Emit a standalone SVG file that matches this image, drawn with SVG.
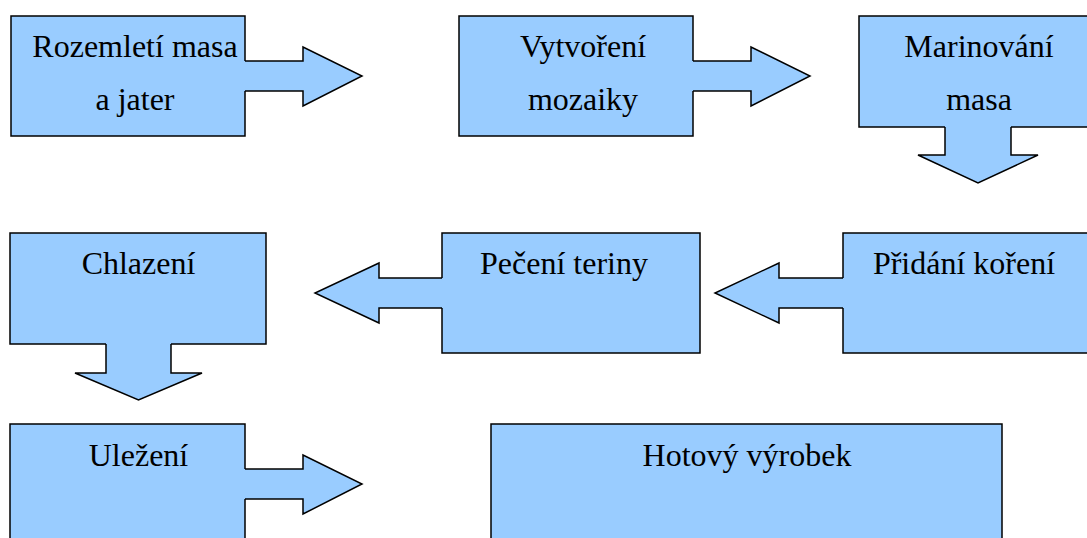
<svg xmlns="http://www.w3.org/2000/svg" width="1087" height="538" viewBox="0 0 1087 538">
<style>
.box{fill:#99ccff;stroke:#000;stroke-width:1.5}
.af{fill:#99ccff;stroke:none}
.as{fill:none;stroke:#000;stroke-width:1.5;stroke-linejoin:miter}
text{font-family:"Liberation Serif","Times New Roman",serif;font-size:32px;fill:#000;text-anchor:middle}
</style>
<rect width="1087" height="538" fill="#fff"/>
<g id="n1"><rect class="box" x="11" y="16" width="234" height="120"/><text x="135" y="57">Rozemletí masa</text><text x="135" y="110">a jater</text></g>
<g id="n2"><rect class="box" x="459" y="16" width="234" height="120"/><text x="583" y="57">Vytvoření</text><text x="583" y="110">mozaiky</text></g>
<g id="n3"><rect class="box" x="859" y="16" width="238" height="111"/><text x="979" y="57">Marinování</text><text x="979" y="110">masa</text></g>
<g id="n4"><rect class="box" x="843" y="233" width="254" height="120"/><text x="964" y="274">Přidání koření</text></g>
<g id="n5"><rect class="box" x="442" y="233" width="258" height="120"/><text x="564" y="274">Pečení teriny</text></g>
<g id="n6"><rect class="box" x="10" y="233" width="256" height="111"/><text x="138.5" y="274">Chlazení</text></g>
<g id="n7"><rect class="box" x="10" y="424" width="235" height="130"/><text x="138.5" y="466">Uležení</text></g>
<g id="n8"><rect class="box" x="491" y="424" width="511" height="130"/><text x="747" y="466">Hotový výrobek</text></g>
<g id="connectors">
<g id="c1"><polygon class="af" points="243,61 303,61 303,47 362,76 303,106 303,91 243,91"/><polyline class="as" points="245,61 303,61 303,47 362,76 303,106 303,91 245,91"/></g>
<g id="c2"><polygon class="af" points="691,61 751,61 751,47 810,76 751,106 751,91 691,91"/><polyline class="as" points="693,61 751,61 751,47 810,76 751,106 751,91 693,91"/></g>
<g id="c3"><polygon class="af" points="945,125 945,155 918,155 978,183 1038,155 1011,155 1011,125"/><polyline class="as" points="945,127 945,155 918,155 978,183 1038,155 1011,155 1011,127"/></g>
<g id="c4"><polygon class="af" points="845,278 779,278 779,263 715,293 779,323 779,308 845,308"/><polyline class="as" points="843,278 779,278 779,263 715,293 779,323 779,308 843,308"/></g>
<g id="c5"><polygon class="af" points="444,278 379,278 379,263 315,293 379,323 379,308 444,308"/><polyline class="as" points="442,278 379,278 379,263 315,293 379,323 379,308 442,308"/></g>
<g id="c6"><polygon class="af" points="106,342 106,373 75,373 138.5,400 202,373 171,373 171,342"/><polyline class="as" points="106,344 106,373 75,373 138.5,400 202,373 171,373 171,344"/></g>
<g id="c7"><polygon class="af" points="243,469 303,469 303,455 362,484 303,514 303,499 243,499"/><polyline class="as" points="245,469 303,469 303,455 362,484 303,514 303,499 245,499"/></g>
</g>
</svg>
